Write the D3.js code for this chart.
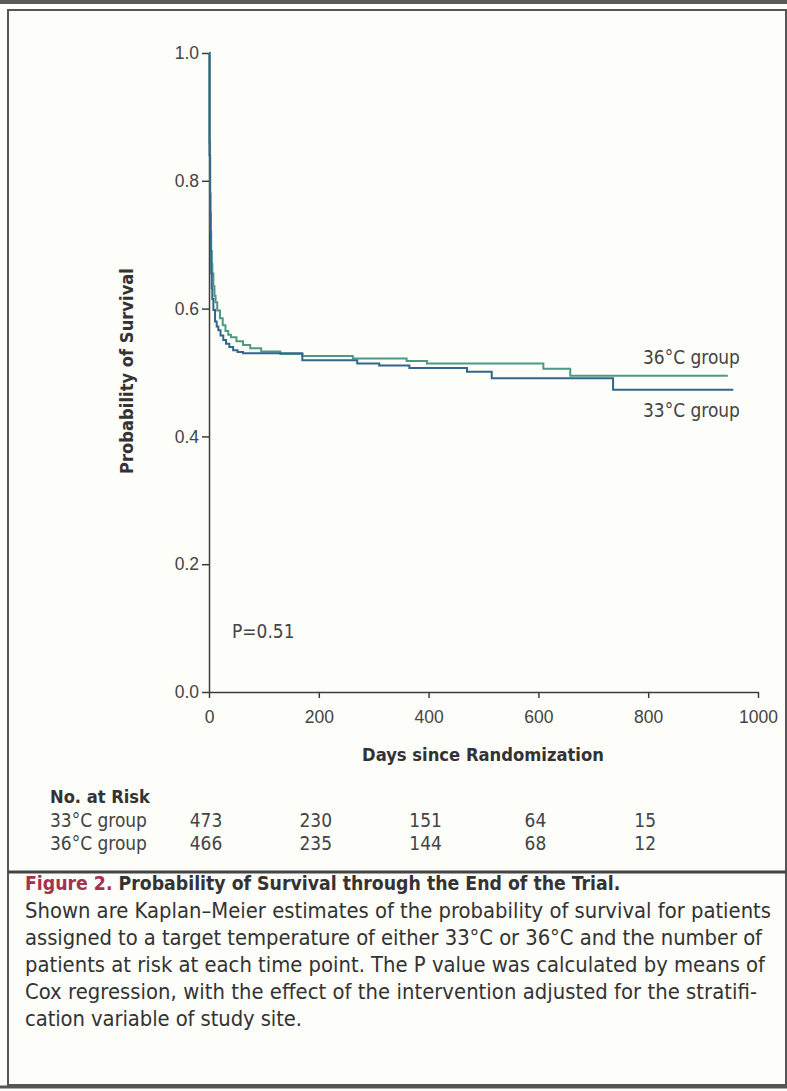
<!DOCTYPE html>
<html lang="en">
<head>
    <meta charset="UTF-8">
    <script src="https://d3js.org/d3.v7.min.js"></script>
    <style>
        body {
            margin: 0;
            padding: 0;
            background-color: #fdfdf9;
        }

        svg {
            display: block;
            font-family: 'DejaVu Sans Condensed', 'Liberation Sans Narrow', 'Open Sans', sans-serif;
        }

        .axis path,
        .axis line {
            stroke: #3c3c3c;
            stroke-width: 1.5;
        }

        .axis text {
            font-size: 17.5px;
            fill: #444;
        }

        .title {
            font-weight: bold;
            font-size: 18px;
            fill: #333;
        }

        .label {
            font-size: 17px;
            fill: #444;
        }

        .caption {
            font-size: 20px;
            fill: #333;
        }
    </style>
</head>
<body>
    <svg id="chart" width="787" height="1091"></svg>

    <script>
        // Kaplan-Meier curves (day, probability)
        const days33 = [0, 1, 2, 3, 4, 5, 6, 8, 11, 14, 17, 21, 26, 31, 37, 44, 52, 62, 170, 270, 310, 365, 470, 515, 736, 955];
        const surv33 = [1, 0.84, 0.75, 0.69, 0.655, 0.632, 0.615, 0.598, 0.58, 0.572, 0.566, 0.558, 0.551, 0.545, 0.54, 0.535, 0.532, 0.530, 0.519, 0.514, 0.511, 0.507, 0.501, 0.491, 0.473, 0.473];

        const days36 = [0, 1, 2, 3, 4, 5, 6, 8, 10, 12, 15, 20, 25, 30, 35, 40, 50, 62, 75, 95, 130, 170, 262, 360, 397, 609, 658, 945];
        const surv36 = [1, 0.86, 0.78, 0.72, 0.69, 0.67, 0.655, 0.635, 0.62, 0.61, 0.597, 0.585, 0.574, 0.565, 0.559, 0.555, 0.549, 0.543, 0.538, 0.533, 0.529, 0.526, 0.522, 0.518, 0.514, 0.506, 0.495, 0.495];

        // Axis ticks
        const xTicks = [0, 200, 400, 600, 800, 1000];
        const yTicks = [0, 0.2, 0.4, 0.6, 0.8, 1.0];

        // Number at risk table
        const groups = ["33°C group", "36°C group"];
        const riskDays = [0, 200, 400, 600, 800];
        const risk33 = [473, 230, 151, 64, 15];
        const risk36 = [466, 235, 144, 68, 12];

        const captionLines = [
            "Shown are Kaplan\u2013Meier estimates of the probability of survival for patients",
            "assigned to a target temperature of either 33°C or 36°C and the number of",
            "patients at risk at each time point. The P value was calculated by means of",
            "Cox regression, with the effect of the intervention adjusted for the stratifi-",
            "cation variable of study site."
        ];
        const captionWidths = [746, 737, 740, 732, 277];

        const svg = d3.select("#chart");

        // scale a text's font size so that it spans w pixels
        function fit(sel, w) {
            const node = sel.node();
            const fs = parseFloat(getComputedStyle(node).fontSize);
            const size = fs * w / node.getComputedTextLength();
            sel.style("font-size", size + "px");
            return size;
        }

        // Frame
        svg.append("rect")
            .attr("x", 0).attr("y", 0)
            .attr("width", 787).attr("height", 4)
            .attr("fill", "#5a5a5a");
        svg.append("rect")
            .attr("x", 8).attr("y", 10)
            .attr("width", 778).attr("height", 1075)
            .attr("fill", "none")
            .attr("stroke", "#555")
            .attr("stroke-width", 2);
        svg.append("line")
            .attr("x1", 8).attr("x2", 787)
            .attr("y1", 872).attr("y2", 872)
            .attr("stroke", "#444")
            .attr("stroke-width", 3);
        svg.append("line")
            .attr("x1", 0).attr("x2", 787)
            .attr("y1", 1087).attr("y2", 1087)
            .attr("stroke", "#555")
            .attr("stroke-width", 3);

        // Scales
        const x = d3.scaleLinear().domain([0, 1000]).range([209, 758]);
        const y = d3.scaleLinear().domain([0, 1]).range([692, 53]);

        // Axes
        svg.append("g")
            .attr("class", "axis")
            .attr("transform", `translate(0,${y(0)})`)
            .call(d3.axisBottom(x).tickValues(xTicks).tickFormat(d3.format("d")).tickSize(6).tickSizeOuter(0).tickPadding(13));

        svg.append("g")
            .attr("class", "axis")
            .attr("transform", `translate(${x(0)},0)`)
            .call(d3.axisLeft(y).tickValues(yTicks).tickFormat(d3.format(".1f")).tickSize(7).tickSizeOuter(0).tickPadding(3));

        // Curves
        const line = d3.line()
            .x(d => x(d[0]))
            .y(d => y(d[1]))
            .curve(d3.curveStepAfter);

        svg.append("path")
            .datum(d3.zip(days36, surv36))
            .attr("fill", "none")
            .attr("stroke", "#4d9a84")
            .attr("stroke-width", 2)
            .attr("d", line);

        svg.append("path")
            .datum(d3.zip(days33, surv33))
            .attr("fill", "none")
            .attr("stroke", "#33668a")
            .attr("stroke-width", 2)
            .attr("d", line);

        // Curve labels
        const lab36 = svg.append("text").attr("class", "label")
            .attr("x", 643).attr("y", 364)
            .text("36°C group");
        const labelSize = fit(lab36, 97);
        svg.append("text").attr("class", "label")
            .attr("x", 643).attr("y", 417)
            .style("font-size", labelSize + "px")
            .text("33°C group");

        svg.append("text").attr("class", "label")
            .attr("x", 232).attr("y", 638)
            .style("font-size", labelSize + "px")
            .text("P=0.51");

        // Axis titles
        fit(svg.append("text").attr("class", "title")
            .attr("transform", "translate(133,371) rotate(-90)")
            .attr("text-anchor", "middle")
            .text("Probability of Survival"), 206);

        fit(svg.append("text").attr("class", "title")
            .attr("x", 483).attr("y", 761)
            .attr("text-anchor", "middle")
            .text("Days since Randomization"), 242);

        // Number at risk
        fit(svg.append("text").attr("class", "title")
            .attr("x", 50).attr("y", 803)
            .text("No. at Risk"), 100);

        [risk33, risk36].forEach((vals, i) => {
            const rowY = 827 + i * 23;
            svg.append("text").attr("class", "label")
                .attr("x", 50).attr("y", rowY)
                .style("font-size", labelSize + "px")
                .text(groups[i]);
            svg.selectAll(null)
                .data(vals)
                .enter()
                .append("text")
                .attr("class", "label")
                .attr("text-anchor", "middle")
                .attr("x", (d, j) => x(riskDays[j]) - 3)
                .attr("y", rowY)
                .style("font-size", labelSize + "px")
                .text(d => d);
        });

        // Caption
        const head = svg.append("text")
            .attr("x", 25).attr("y", 890)
            .attr("class", "caption")
            .attr("font-weight", "bold");
        head.append("tspan").attr("fill", "#a3324e").text("Figure 2.");
        head.append("tspan").attr("fill", "#333").text(" Probability of Survival through the End of the Trial.");
        fit(head, 596);

        const body = svg.selectAll(".body-line")
            .data(captionLines)
            .enter()
            .append("text")
            .attr("class", "caption body-line")
            .attr("x", 25)
            .attr("y", (d, i) => 918 + i * 27)
            .text(d => d);
        const bodySize = fit(body.filter((d, i) => i === 0), captionWidths[0]);
        body.style("font-size", bodySize + "px")
            .attr("textLength", (d, i) => captionWidths[i]);
    </script>
</body>
</html>
